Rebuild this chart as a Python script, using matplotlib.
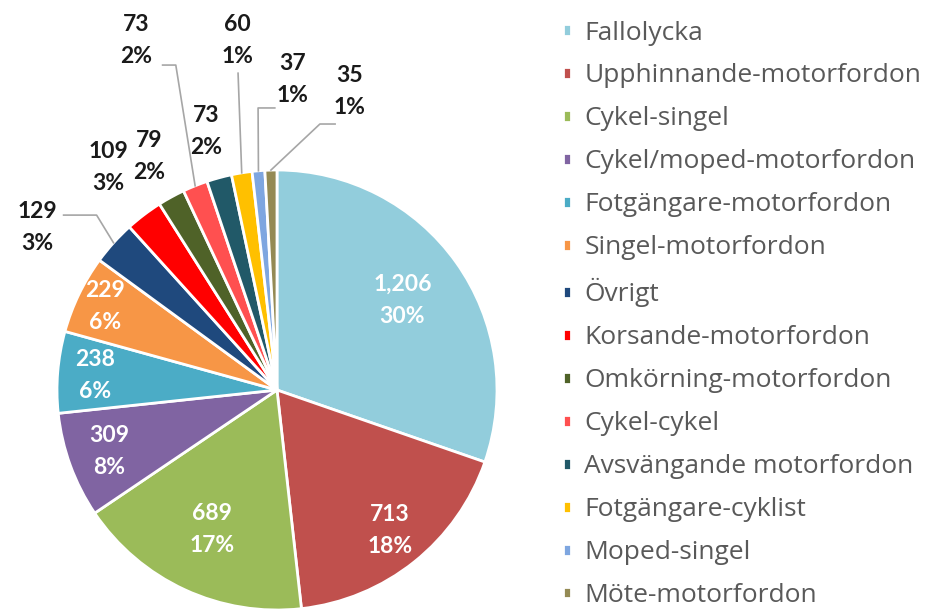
import matplotlib
matplotlib.use('Agg')
import matplotlib.pyplot as plt
import numpy as np

categories = ['Fallolycka', 'Upphinnande-motorfordon', 'Cykel-singel', 'Cykel/moped-motorfordon',
              'Fotgängare-motorfordon', 'Singel-motorfordon', 'Övrigt', 'Korsande-motorfordon',
              'Omkörning-motorfordon', 'Cykel-cykel', 'Avsvängande motorfordon', 'Fotgängare-cyklist',
              'Moped-singel', 'Möte-motorfordon']
values = [1206, 713, 689, 309, 238, 229, 129, 109, 79, 73, 73, 60, 37, 35]
percents = [30, 18, 17, 8, 6, 6, 3, 3, 2, 2, 2, 1, 1, 1]
colors = ['#92CDDC', '#C0504D', '#9BBB59', '#8064A2', '#4BACC6', '#F79646', '#1F497D',
          '#FF0000', '#4F6228', '#FF5050', '#215968', '#FFC000', '#7EA6E0', '#948A54']

plt.rcParams['font.family'] = ['Lato', 'DejaVu Sans']

fig = plt.figure(figsize=(9.34, 6.10), dpi=100)
ax = fig.add_axes([57 / 934, 0, 440 / 934, 440 / 610])
wedges, _ = ax.pie(values, colors=colors, startangle=90, counterclock=False, radius=1.0,
                   wedgeprops=dict(edgecolor='white', linewidth=2))
ax.set_xlim(-1, 1)
ax.set_ylim(-1, 1)
ax.set_aspect('equal')
ax.axis('off')

labels = ['{:,}\n{}%'.format(v, p) for v, p in zip(values, percents)]

# label layout: inside radius for big slices, outside radius for small ones without leader
inner_r = {0: 0.70, 1: 0.82, 2: 0.70, 3: 0.81, 4: 0.83, 5: 0.87}
outer_r = {7: 1.27, 8: 1.21, 10: 1.22}
# leader labels: text position, stub start, elbow
leader = {
    6: ((-1.09, 0.74), (-0.97, 0.795), (-0.82, 0.795)),
    9: ((-0.64, 1.59), (-0.52, 1.477), (-0.46, 1.477)),
    11: ((-0.18, 1.59), (-0.177, 1.44), (-0.177, 1.44)),
    12: ((0.07, 1.41), (-0.01, 1.282), (-0.086, 1.282)),
    13: ((0.33, 1.355), (0.264, 1.209), (0.195, 1.209)),
}
lab_kw = dict(ha='center', va='center', fontsize=16.5, fontweight='bold', linespacing=1.65)

for i, w in enumerate(wedges):
    ang = np.deg2rad((w.theta1 + w.theta2) / 2)
    if i in inner_r:
        r = inner_r[i]
        ax.text(r * np.cos(ang), r * np.sin(ang), labels[i], color='white', **lab_kw)
    elif i in outer_r:
        r = outer_r[i]
        ax.text(r * np.cos(ang), r * np.sin(ang), labels[i], color='#1a1a1a', clip_on=False,
                **lab_kw)
    else:
        tpos, s, e = leader[i]
        end = (np.cos(ang), np.sin(ang))
        ax.text(tpos[0], tpos[1], labels[i], color='#1a1a1a', clip_on=False, **lab_kw)
        ax.plot([s[0], e[0], end[0]], [s[1], e[1], end[1]], color='#A6A6A6', lw=1.2,
                clip_on=False)

leg = fig.legend(wedges, categories, loc='upper left', bbox_to_anchor=(552 / 934, 1 - 10 / 610),
                 frameon=False, prop=dict(family='Open Sans', size=19), handlelength=0.32,
                 handleheight=0.32, handletextpad=0.5, labelspacing=0.68, borderaxespad=0)
for t in leg.get_texts():
    t.set_color('#595959')

fig.savefig('out.png', dpi=100)
